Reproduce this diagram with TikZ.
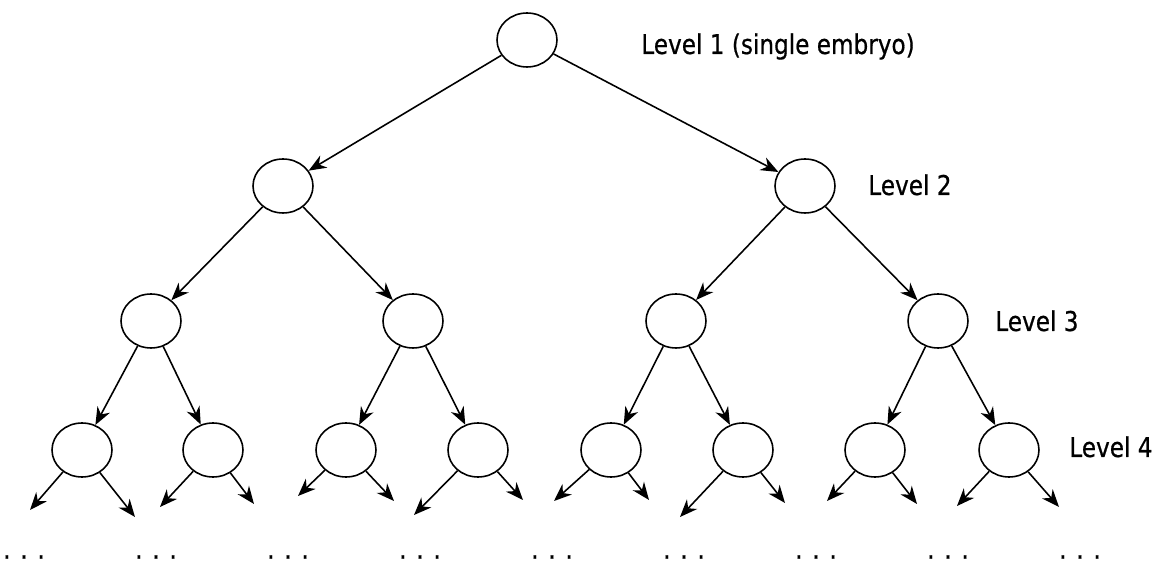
\documentclass[tikz,border=0pt]{standalone}
\usepackage{fontspec}
\setmainfont{DejaVu Sans}[FakeStretch=0.85,FakeBold=0.6]
\usetikzlibrary{arrows.meta, shapes, positioning}
\tikzset{
	px/.style={x=0.02cm,y=-0.02cm},
	embryo/.style={
		ellipse,
		draw=black, line width=0.9pt,
		minimum width=1.2cm, minimum height=1.08cm,
		inner sep=0pt
	},
	split/.style={-{Stealth[length=10pt,width=8pt,inset=3.2pt]}, line width=0.9pt},
	level/.style={anchor=base west, inner sep=0pt, font=\fontsize{15.5}{18}\selectfont},
	more/.style={inner sep=0pt, font=\fontsize{15.5}{18}\selectfont}
}

\begin{document}
\begin{tikzpicture}[px]
	\useasboundingbox (0,0) rectangle (1156,563);

	% the tree
	\node[embryo] (root) at (527,40) {};
	\node[embryo] (l2-1) at (283,186) {};
	\node[embryo] (l2-2) at (805,186) {};
	\foreach \x [count=\i] in {151,413,676,938} { \node[embryo] (l3-\i) at (\x,321) {}; }
	\foreach \x [count=\i] in {82,213,346,478,611,743,875,1009} { \node[embryo] (l4-\i) at (\x,450) {}; }

	\draw[split] (root)--(l2-1);
	\draw[split] (root)--(l2-2);
	\foreach \p/\a/\b in {1/1/2, 2/3/4} {
		\draw[split] (l2-\p)--(l3-\a);
		\draw[split] (l2-\p)--(l3-\b);
	}
	\foreach \p/\a/\b in {1/1/2, 2/3/4, 3/5/6, 4/7/8} {
		\draw[split] (l3-\p)--(l4-\a);
		\draw[split] (l3-\p)--(l4-\b);
	}

	% open ends below level 4
	\foreach \i/\lx/\ly/\rx/\ry in {1/30/510/135/517, 2/160/507/254/504, 3/298/496/394/501, 4/414/515/523/500, 5/554/501/649/500, 6/680/517/785/503, 7/827/501/917/504, 8/957/506/1059/507} {
		\coordinate (tip\i l) at (\lx,\ly);
		\coordinate (tip\i r) at (\rx,\ry);
		\draw[split] (l4-\i)--(tip\i l);
		\draw[split] (l4-\i)--(tip\i r);
	}
	\foreach \x [count=\i] in {24,156,288,420,552,684,816,948,1080} { \node[more] (dots\i) at (\x,557) {. . .}; }

	% level labels
	\node[level] (lab1) at (641,54) {Level 1 (single embryo)};
	\node[level] (lab2) at (868,195) {Level 2};
	\node[level] (lab3) at (995,331) {Level 3};
	\node[level] (lab4) at (1069,457) {Level 4};
\end{tikzpicture}
\end{document}
